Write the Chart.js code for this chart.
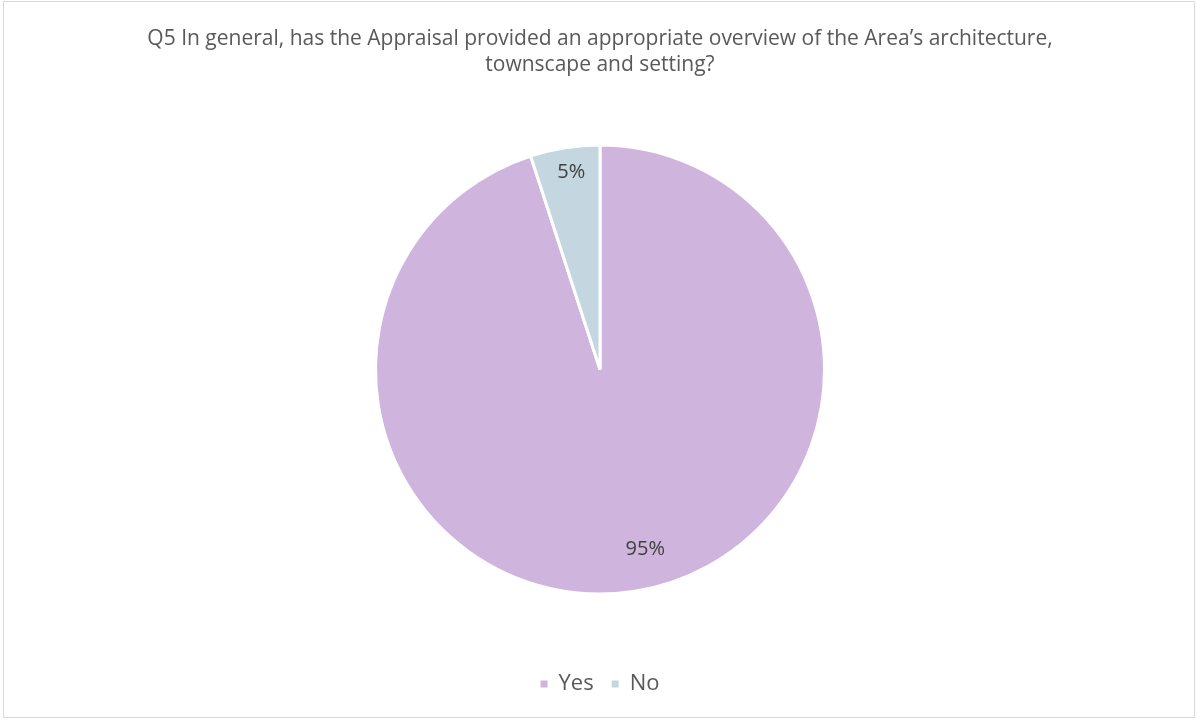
<!DOCTYPE html>
<html><head><meta charset="utf-8">
<script src="https://cdn.jsdelivr.net/npm/chart.js@4/dist/chart.umd.min.js"></script>
<style>html,body{margin:0;padding:0;background:#fff}#wrap{width:1198px;height:720px;position:relative}</style>
</head><body><div id="wrap"><canvas id="c" width="1198" height="720"></canvas></div>
<script>
const categories = ["Yes", "No"];
const values = [95, 5];
const colors = ["#CFB4DE", "#C4D6DF"];
const titleLines = ["Q5 In general, has the Appraisal provided an appropriate overview of the Area\u2019s architecture,", "townscape and setting?"];

const FONT = '"Open Sans", Lato, sans-serif';

const frame = {
  id: 'frame',
  beforeDraw(chart) {
    const ctx = chart.ctx;
    ctx.save();
    ctx.fillStyle = '#fff';
    ctx.fillRect(0, 0, chart.width, chart.height);
    ctx.strokeStyle = '#D9D9D9';
    ctx.lineWidth = 1;
    ctx.strokeRect(3.5, 1.5, chart.width - 7, chart.height - 4);
    ctx.restore();
  }
};
const labels = {
  id: 'pieLabels',
  afterDatasetsDraw(chart, args, opts) {
    const ctx = chart.ctx;
    const meta = chart.getDatasetMeta(0);
    const total = values.reduce((a, b) => a + b, 0);
    ctx.save();
    ctx.font = '20px ' + FONT;
    ctx.fillStyle = '#404040';
    ctx.textAlign = 'center';
    ctx.textBaseline = 'middle';
    meta.data.forEach((arc, i) => {
      const p = arc.getProps(['x', 'y', 'startAngle', 'endAngle', 'outerRadius'], true);
      const mid = (p.startAngle + p.endAngle) / 2 + opts.shift[i] * Math.PI / 180;
      const r = p.outerRadius * opts.radii[i];
      const txt = Math.round(values[i] / total * 100) + '%';
      ctx.fillText(txt, p.x + Math.cos(mid) * r, p.y + Math.sin(mid) * r);
    });
    ctx.restore();
  }
};

new Chart(document.getElementById('c'), {
  type: 'pie',
  data: { labels: categories, datasets: [{ data: values, backgroundColor: colors, borderColor: '#fff', borderWidth: 3, radius: 224.5 }] },
  options: {
    responsive: false,
    animation: false,
    layout: { padding: { top: 0, bottom: 15, left: 2, right: 0 } },
    plugins: {
      title: { display: true, text: titleLines, color: '#595959', font: { family: FONT, size: 21, weight: 'normal', lineHeight: 1.238 }, padding: { top: 26, bottom: 6 } },
      legend: {
        position: 'bottom',
        labels: {
          color: '#595959', font: { family: FONT, size: 22 }, boxWidth: 7, boxHeight: 7, padding: 18,
          generateLabels(chart) {
            return Chart.overrides.pie.plugins.legend.labels.generateLabels(chart).map(l => Object.assign(l, { lineWidth: 0, strokeStyle: l.fillStyle }));
          }
        }
      },
      tooltip: { enabled: false },
      pieLabels: { radii: [0.828, 0.886], shift: [-5.1, 0.7] }
    }
  },
  plugins: [frame, labels]
});
</script></body></html>
